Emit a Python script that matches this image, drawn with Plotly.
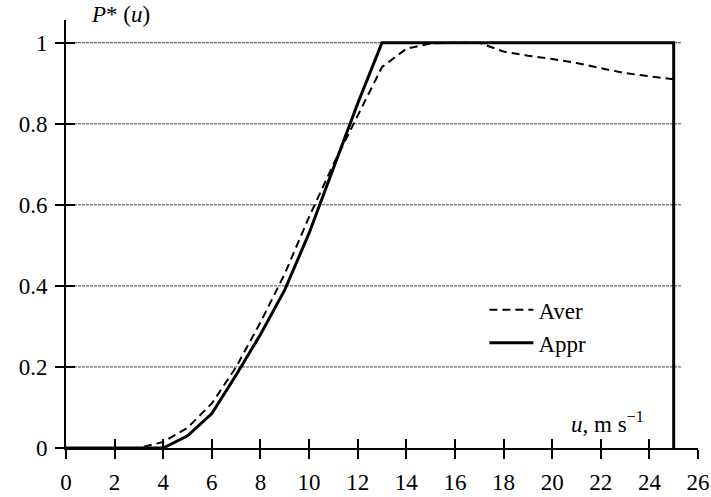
import plotly.graph_objects as go

# ---- data ----
u_aver = [0, 3, 4, 5, 6, 7, 8, 9, 10, 11, 12, 13, 14, 15, 16, 17, 18, 19, 20, 21, 22, 23, 24, 25]
p_aver = [0, 0, 0.015, 0.05, 0.11, 0.20, 0.31, 0.43, 0.57, 0.70, 0.82, 0.94, 0.985, 0.998, 1.0, 1.0,
          0.978, 0.968, 0.96, 0.95, 0.937, 0.925, 0.917, 0.91]

u_appr = [0, 4, 5, 6, 7, 8, 9, 10, 11, 12, 13, 25, 25]
p_appr = [0, 0, 0.03, 0.085, 0.18, 0.28, 0.39, 0.53, 0.69, 0.85, 1.0, 1.0, 0]

x_ticks = list(range(0, 27, 2))
y_ticks = [0, 0.2, 0.4, 0.6, 0.8, 1]
y_tick_text = ["0", "0.2", "0.4", "0.6", "0.8", "1"]

FONT = "Liberation Serif, Times New Roman, serif"
FS = 23

fig = go.Figure()
fig.add_trace(go.Scatter(x=u_aver, y=p_aver, mode="lines", name="Aver",
                         line=dict(color="black", width=2, dash="8px,5px"),
                         legendgroup="a"))
fig.add_trace(go.Scatter(x=u_appr, y=p_appr, mode="lines", name="Appr",
                         line=dict(color="black", width=3), legendgroup="b"))
# invisible trace for overlay axes (inside tick marks)
fig.add_trace(go.Scatter(x=[None], y=[None], xaxis="x2", yaxis="y2", showlegend=False,
                         hoverinfo="skip"))

shapes = []
for yv in y_ticks[1:]:
    shapes.append(dict(type="line", xref="x", yref="y", x0=0, x1=25.3, y0=yv, y1=yv,
                       line=dict(color="#444", width=1, dash="3px,1px"), layer="below"))

fig.update_layout(
    width=711, height=497,
    margin=dict(l=66, r=13, t=20, b=49),
    paper_bgcolor="white", plot_bgcolor="white",
    font=dict(family=FONT, size=FS, color="black"),
    showlegend=True,
    legend=dict(x=0.662, y=0.373, xanchor="left", yanchor="top", bgcolor="rgba(0,0,0,0)",
                font=dict(family=FONT, size=FS), tracegroupgap=0, traceorder="grouped",
                itemwidth=44),
    xaxis=dict(range=[0, 26], tickvals=x_ticks, ticks="outside", ticklen=9, tickwidth=2,
               tickcolor="black", showline=True, linecolor="black", linewidth=2,
               showgrid=False, zeroline=False, tickfont=dict(family=FONT, size=FS),
               ticklabelstandoff=3, automargin=False),
    yaxis=dict(range=[0, 1.056], tickvals=y_ticks, ticktext=y_tick_text, ticks="outside",
               ticklen=9, tickwidth=2, tickcolor="black", showline=True, linecolor="black",
               linewidth=2, showgrid=False, zeroline=False, tickfont=dict(family=FONT, size=FS),
               ticklabelstandoff=3, automargin=False),
    xaxis2=dict(overlaying="x", matches="x", anchor="y", side="bottom", tickvals=x_ticks,
                ticks="inside", ticklen=9, tickwidth=2, tickcolor="black",
                showticklabels=False, showline=False, showgrid=False, zeroline=False,
                automargin=False),
    yaxis2=dict(overlaying="y", matches="y", anchor="x", side="left", tickvals=y_ticks,
                ticks="inside", ticklen=9, tickwidth=2, tickcolor="black",
                showticklabels=False, showline=False, showgrid=False, zeroline=False,
                automargin=False),
    shapes=shapes,
    annotations=[
        dict(text="<i>P</i>* (<i>u</i>)", xref="paper", yref="paper", x=0.037, y=1.0,
             xanchor="left", yanchor="middle", yshift=6, showarrow=False,
             font=dict(family=FONT, size=FS)),
        dict(text="<i>u</i>, m s<sup>\u22121</sup>", xref="x", yref="y", x=20.7, y=0.062,
             xanchor="left", yanchor="middle", showarrow=False,
             font=dict(family=FONT, size=FS)),
    ],
)

fig.write_html("out.html", config={"displayModeBar": False},
               post_script="document.body.style.margin='0';")
